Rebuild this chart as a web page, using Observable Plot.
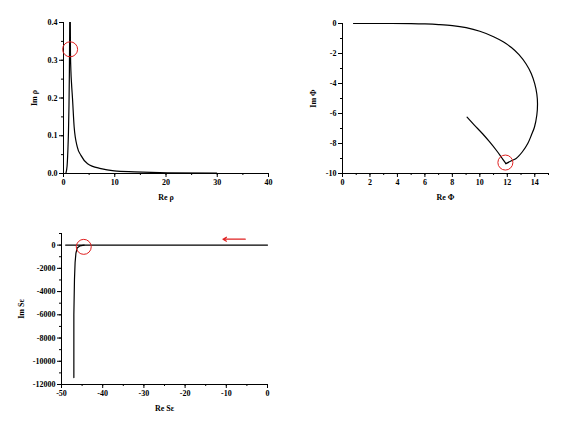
<!DOCTYPE html>
<html><head><meta charset="utf-8">
<script src="https://cdn.jsdelivr.net/npm/d3@7"></script>
<script src="https://cdn.jsdelivr.net/npm/@observablehq/plot@0.6"></script>
<style>
body{margin:0;background:#fff;width:564px;height:427px;position:relative;overflow:hidden}
.p{position:absolute}
svg, svg text{font-family:"Liberation Serif","DejaVu Serif",serif !important;font-weight:bold;}
</style></head><body>
<div id="p1" class="p" style="left:0;top:0"></div>
<div id="p2" class="p" style="left:282px;top:0"></div>
<div id="p3" class="p" style="left:0;top:210px"></div>
<script>
// Panel 1: Re rho vs Im rho
const rhoRe = [0.45,0.7,0.85,0.97,1.07,1.15,1.2,1.24,1.3,1.36,1.45,1.56,1.75,2.08,2.7,3.4,4.7,7.3,9.9,13.8,20.3,29.9];
const rhoIm = [0,0.02,0.06,0.11,0.18,0.27,0.36,0.46,0.46,0.32,0.27,0.24,0.2,0.123,0.07,0.048,0.026,0.013,0.007,0.0045,0.002,0.001];
const rhoMark = [{x:1.29,y:0.329}];
// Panel 2: Re Phi vs Im Phi
const phiRe = [0.8,3,5,6,7,8,9,10,11,11.7,12.3,12.85,13.37,13.75,14.0,14.15,14.2,14.15,13.98,13.75,13.49,13.1,12.64,12.3,11.9,11.5,11.2,10.7,10.2,9.6,9.07];
const phiIm = [0,0,-0.01,-0.03,-0.07,-0.14,-0.28,-0.52,-0.88,-1.22,-1.6,-2.08,-2.7,-3.35,-4.03,-4.7,-5.35,-6.1,-6.9,-7.45,-8.0,-8.55,-9.0,-9.15,-9.34,-8.82,-8.45,-7.88,-7.35,-6.77,-6.24];
const phiMark = [{x:11.86,y:-9.27}];
// Panel 3: Re S vs Im S
const sRe = [-47.0,-47.0,-46.85,-46.7,-46.5,-46.2,-45.5,-44.5,-49,-30,-10,0];
const sIm = [-11400,-6000,-2940,-1500,-700,-250,-60,0,0,0,0,0];
const sMark = [{x:-44.6,y:-150}];
const sArrow = [{x1:-5.4,y1:510,x2:-10.8,y2:510}];

function panel(opts){
  const {el, w, h, ml, mr, mt, mb, xd, yd, xMaj, xMin, yMaj, yMin, xFmt, yFmt, xLab, yLab, yLabOff, lines, marks, extra} = opts;
  const p = Plot.plot({
    width: w, height: h, marginLeft: ml, marginRight: mr, marginTop: mt, marginBottom: mb,
    style: {fontFamily: '"Liberation Serif", serif', fontWeight: "bold", fontSize: "8px", background: "#fff", overflow: "visible"},
    x: {domain: xd}, y: {domain: yd},
    marks: [
      Plot.axisX({ticks: xMin, tickSize: 2, tickFormat: () => "", label: null}),
      Plot.axisX({ticks: xMaj, tickSize: 4, tickPadding: 2, tickFormat: xFmt, label: xLab, labelAnchor: "center", labelArrow: "none", labelOffset: 26}),
      Plot.axisY({ticks: yMin, tickSize: 2, tickFormat: () => "", label: null}),
      Plot.axisY({ticks: yMaj, tickSize: 4, tickPadding: 2, tickFormat: yFmt, label: yLab, labelAnchor: "center", labelArrow: "none", labelOffset: yLabOff}),
      Plot.ruleX([xd[0]], {stroke: "#000", strokeWidth: 1}),
      Plot.ruleY([yd[0]], {stroke: "#000", strokeWidth: 1}),
      ...lines,
      Plot.dot(marks, {x: "x", y: "y", r: 7.5, stroke: "#e02020", strokeWidth: 1, fill: "none"}),
      ...(extra || [])
    ]
  });
  document.getElementById(el).appendChild(p);
}
const f1 = d => d.toFixed(1);
const fs = d => String(d);

panel({el:"p1", w:282, h:210, ml:63, mr:14, mt:22, mb:37, xd:[0,40], yd:[0,0.4],
  xMaj:[0,10,20,30,40], xMin:d3.range(0,41,5), yMaj:[0,0.1,0.2,0.3,0.4], yMin:d3.range(0,0.401,0.05),
  xFmt: fs, yFmt: f1, xLab:"Re ρ", yLab:"Im ρ", yLabOff:32,
  lines:[Plot.line(rhoRe.map((x,i)=>({x, y: rhoIm[i]})), {x:"x", y:"y", stroke:"#000", strokeWidth:1.2, clip:true, curve:"monotone-x"})],
  marks: rhoMark});

panel({el:"p2", w:282, h:210, ml:60, mr:16, mt:23, mb:37, xd:[0,15], yd:[-10,0],
  xMaj:d3.range(0,15,2), xMin:d3.range(0,16,1), yMaj:d3.range(-10,1,2), yMin:d3.range(-10,1,1),
  xFmt: fs, yFmt: fs, xLab:"Re Φ", yLab:"Im Φ", yLabOff:32,
  lines:[
    Plot.line(phiRe.slice(0,25).map((x,i)=>({x, y: phiIm[i]})), {x:"x", y:"y", stroke:"#000", strokeWidth:1.2, curve:"catmull-rom"}),
    Plot.line(phiRe.slice(24).map((x,i)=>({x, y: phiIm[i+24]})), {x:"x", y:"y", stroke:"#000", strokeWidth:1.2, curve:"catmull-rom"})
  ],
  marks: phiMark});

panel({el:"p3", w:282, h:217, ml:61, mr:15, mt:23, mb:43, xd:[-50,0], yd:[-12000,1000],
  xMaj:d3.range(-50,1,10), xMin:d3.range(-50,1,5), yMaj:d3.range(-12000,1,2000), yMin:d3.range(-12000,1001,1000),
  xFmt: fs, yFmt: fs, xLab:"Re Sε", yLab:"Im Sε", yLabOff:43,
  lines:[
    Plot.line(sRe.slice(0,8).map((x,i)=>({x, y: sIm[i]})), {x:"x", y:"y", stroke:"#000", strokeWidth:1.2}),
    Plot.line(sRe.slice(8).map((x,i)=>({x, y: sIm[i+8]})), {x:"x", y:"y", stroke:"#000", strokeWidth:1.2})
  ],
  marks: sMark,
  extra:[Plot.arrow(sArrow, {x1:"x1", y1:"y1", x2:"x2", y2:"y2", stroke:"#e02020", strokeWidth:1.2, headLength:5})]});
</script>
</body></html>
